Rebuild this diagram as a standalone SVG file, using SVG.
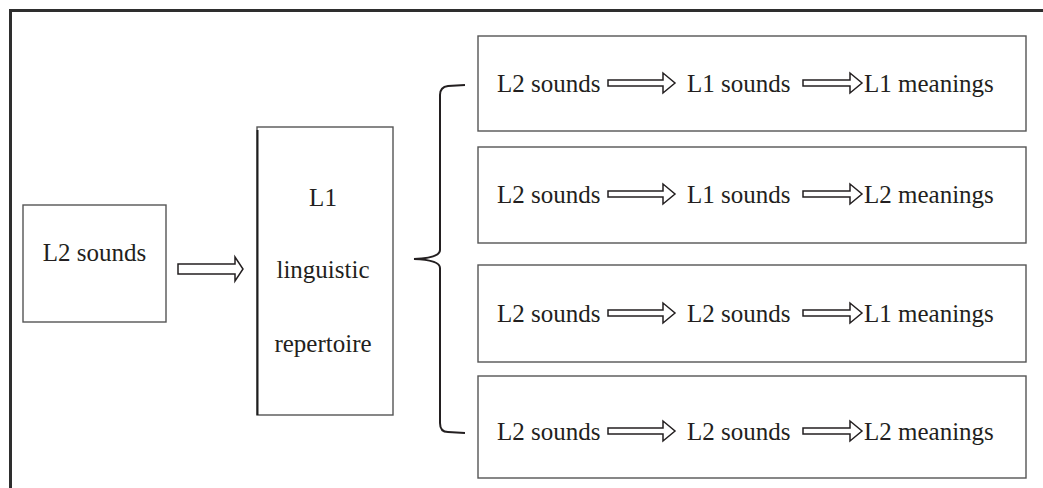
<svg xmlns="http://www.w3.org/2000/svg" width="1043" height="488" viewBox="0 0 1043 488">
  <style>
    .frame { fill: none; stroke: #2e2e2e; stroke-width: 3; }
    .box { fill: #ffffff; stroke: #555555; stroke-width: 1.4; }
    .edge { fill: none; stroke: #1e1e1e; stroke-width: 2; }
    .lbl { font-family: "Liberation Serif", "Times New Roman", serif; font-size: 25px; fill: #231f20; }
    .mid { text-anchor: middle; }
    .arrow { fill: #ffffff; stroke: #231f20; stroke-width: 1.5; stroke-linejoin: miter; }
    .brace { fill: none; stroke: #231f20; stroke-width: 2; }
  </style>

  <rect x="0" y="0" width="1043" height="488" fill="#ffffff"/>

  <!-- page frame (top and left rules) -->
  <path class="frame" d="M10.5,488 L10.5,10.5 L1043,10.5"/>

  <!-- source sounds -->
  <g id="node-l2-sounds">
    <rect class="box" x="23" y="205" width="143" height="117"/>
    <text class="lbl mid" x="94.5" y="261">L2 sounds</text>
  </g>

  <!-- first-language repertoire -->
  <g id="node-l1-repertoire">
    <rect class="box" x="257" y="127" width="136" height="288"/>
    <path class="edge" d="M257.5,130 L257.5,415"/>
    <text class="lbl mid" x="323" y="206">L1</text>
    <text class="lbl mid" x="323" y="278">linguistic</text>
    <text class="lbl mid" x="323" y="352">repertoire</text>
  </g>

  <!-- four processing routes -->
  <g id="route-1">
    <rect class="box" x="478" y="36" width="548" height="95"/>
    <text class="lbl" x="497" y="92">L2 sounds</text>
    <polygon class="arrow" points="608,80 663,80 663,73 675,83 663,93 663,86 608,86"/>
    <text class="lbl" x="687" y="92">L1 sounds</text>
    <polygon class="arrow" points="803,80 850,80 850,73 862,83 850,93 850,86 803,86"/>
    <text class="lbl" x="864" y="92">L1 meanings</text>
  </g>

  <g id="route-2">
    <rect class="box" x="478" y="147" width="548" height="96"/>
    <text class="lbl" x="497" y="203">L2 sounds</text>
    <polygon class="arrow" points="608,191 663,191 663,184 675,194 663,204 663,197 608,197"/>
    <text class="lbl" x="687" y="203">L1 sounds</text>
    <polygon class="arrow" points="803,191 850,191 850,184 862,194 850,204 850,197 803,197"/>
    <text class="lbl" x="864" y="203">L2 meanings</text>
  </g>

  <g id="route-3">
    <rect class="box" x="478" y="265" width="548" height="97"/>
    <text class="lbl" x="497" y="322">L2 sounds</text>
    <polygon class="arrow" points="608,310 663,310 663,303 675,313 663,323 663,316 608,316"/>
    <text class="lbl" x="687" y="322">L2 sounds</text>
    <polygon class="arrow" points="803,310 850,310 850,303 862,313 850,323 850,316 803,316"/>
    <text class="lbl" x="864" y="322">L1 meanings</text>
  </g>

  <g id="route-4">
    <rect class="box" x="478" y="376" width="548" height="102"/>
    <text class="lbl" x="497" y="440">L2 sounds</text>
    <polygon class="arrow" points="608,428 663,428 663,421 675,431 663,441 663,434 608,434"/>
    <text class="lbl" x="687" y="440">L2 sounds</text>
    <polygon class="arrow" points="803,428 850,428 850,421 862,431 850,441 850,434 803,434"/>
    <text class="lbl" x="864" y="440">L2 meanings</text>
  </g>

  <!-- connectors -->
  <g id="connectors">
    <polygon class="arrow" points="178,264 235,264 235,257 243,269 235,281 235,274 178,274"/>
    <path class="brace" d="M465,85 L448,86 Q440,87 440,95 L440,250 Q440,258 414,259 Q440,260 440,268 L440,423 Q440,432 448,432 L465,433"/>
  </g>
</svg>
